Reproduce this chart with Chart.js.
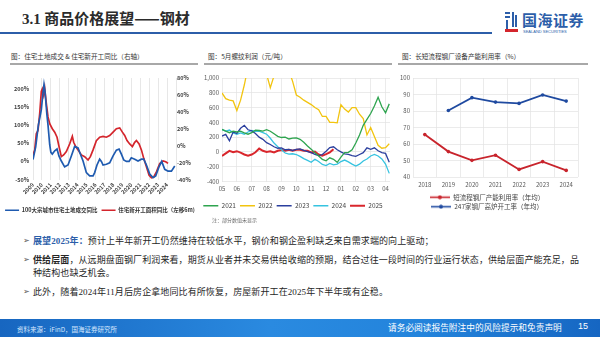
<!DOCTYPE html>
<html>
<head>
<meta charset="utf-8">
<script src="https://cdn.jsdelivr.net/npm/chart.js@4.4.0/dist/chart.umd.min.js"></script>
<style>
  body { margin: 0; width: 600px; height: 337px; position: relative; overflow: hidden; background: #fff;
         font-family: "Noto Sans CJK SC", "Noto Sans", sans-serif; color: #333; }
  .abs { position: absolute; white-space: nowrap; }
  .title { left: 22px; top: 7px; font-size: 15px; font-weight: bold; color: #2b2b2b; }
  .title .num { font-family: "Liberation Serif", serif; }
  .rule { left: 0; top: 32px; width: 492px; height: 2px; background: #2c5ea9; }
  .sub { top: 52px; font-size: 6.6px; line-height: 9px; color: #333; }
  .subline { top: 63px; height: 2px; background: #a8a8a8; }
  .note { left: 212px; top: 216px; font-size: 5px; color: #666; }
  .bul { font-size: 9px; line-height: 12px; color: #262626; letter-spacing: 0.1px;
         font-family: "Liberation Serif", "Noto Sans CJK SC", serif; }
  .arrow { font-size: 8px; line-height: 12px; color: #555; font-family: "DejaVu Sans", sans-serif; left: 23px; }
  .blue { color: #2c5ea9; font-weight: bold; }
  .footer { left: 0; top: 319px; width: 600px; height: 18px;
            background: linear-gradient(90deg, #1766c0 0%, #2a8ae0 45%, #2384dc 70%, #1666c2 100%); }
  canvas { position: absolute; }
</style>
</head>
<body>
<div class="abs title"><span class="num">3.1</span> 商品价格展望——钢材</div>
<div class="abs rule"></div>

<!-- logo -->
<div class="abs" style="left:505px;top:12px;width:13px;height:20px;">
  <div class="abs" style="left:0;top:0;width:5px;height:2px;background:#2c5ea9"></div>
  <div class="abs" style="left:0;top:4px;width:5px;height:2px;background:#2c5ea9"></div>
  <div class="abs" style="left:1px;top:8px;width:2px;height:9px;background:#2c5ea9"></div>
  <div class="abs" style="left:7px;top:0;width:2px;height:15px;background:#2c5ea9"></div>
  <div class="abs" style="left:10px;top:3px;width:2px;height:12px;background:#2c5ea9"></div>
  <div class="abs" style="left:0;top:17px;width:13px;height:3px;background:#d4252c"></div>
</div>
<div class="abs" style="left:522px;top:9px;font-size:15px;font-weight:bold;color:#2c5ea9;letter-spacing:0.5px;">国海证券</div>
<div class="abs" style="left:523px;top:29px;font-size:4px;color:#2c5ea9;font-family:'Liberation Sans',sans-serif;">SEALAND SECURITIES</div>

<!-- sub titles -->
<div class="abs sub" style="left:11px;">图：住宅土地成交 &amp; 住宅新开工同比（右轴）</div>
<div class="abs sub" style="left:208px;">图：5月螺纹利润（元/吨）</div>
<div class="abs sub" style="left:402px;">图：长短流程钢厂设备产能利用率（%）</div>
<div class="abs subline" style="left:10px;width:188px;"></div>
<div class="abs subline" style="left:204px;width:188px;"></div>
<div class="abs subline" style="left:398px;width:190px;"></div>

<canvas id="c1" width="200" height="157" style="left:0;top:66px;"></canvas>
<canvas id="c2" width="200" height="153" style="left:196px;top:66px;"></canvas>
<canvas id="c3" width="204" height="154" style="left:396px;top:66px;"></canvas>
<div class="abs note">注：部分数值未显示</div>

<!-- bullets -->
<div class="abs arrow" style="top:235px;">➢</div>
<div class="abs bul" style="left:33px;top:235px;"><span class="blue">展望2025年：</span>预计上半年新开工仍然维持在较低水平，钢价和钢企盈利缺乏来自需求端的向上驱动；</div>
<div class="abs arrow" style="top:254px;">➢</div>
<div class="abs bul" style="left:33px;top:254px;"><b>供给层面</b>，从远期盘面钢厂利润来看，期货从业者并未交易供给收缩的预期，结合过往一段时间的行业运行状态，供给层面产能充足，品</div>
<div class="abs bul" style="left:33px;top:267px;">种结构也缺乏机会。</div>
<div class="abs arrow" style="top:286px;">➢</div>
<div class="abs bul" style="left:33px;top:286px;">此外，随着2024年11月后房企拿地同比有所恢复，房屋新开工在2025年下半年或有企稳。</div>

<div class="abs footer"></div>
<div class="abs" style="left:17px;top:324px;font-size:6.5px;color:#d6e8ff;">资料来源：iFinD，国海证券研究所</div>
<div class="abs" style="left:388px;top:321px;font-size:8.7px;color:#fff;">请务必阅读报告附注中的风险提示和免责声明</div>
<div class="abs" style="left:578px;top:321px;font-size:9px;color:#fff;font-family:'Liberation Sans',sans-serif;">15</div>

<script>
// ---------- 图1：住宅土地成交 & 住宅新开工同比 ----------
const yearLabels = [2009, 2010, 2011, 2012, 2013, 2014, 2015, 2016, 2017, 2018, 2019, 2020, 2021, 2022, 2023, 2024];

const landYears = [2009.00, 2009.30, 2009.60, 2009.93, 2010.10, 2010.23, 2010.33, 2010.42, 2010.55, 2010.68, 2010.87, 2011.00,
  2011.16, 2011.43, 2011.69, 2011.90, 2012.17, 2012.54, 2012.92, 2013.29, 2013.66, 2014.04, 2014.22, 2014.60,
  2014.97, 2015.34, 2015.72, 2015.90, 2016.16, 2016.46, 2016.65, 2016.84, 2017.21, 2017.58, 2017.96, 2018.33,
  2018.63, 2018.89, 2019.15, 2019.45, 2019.75, 2020.00, 2020.38, 2020.75, 2021.13, 2021.39, 2021.69, 2022.06,
  2022.43, 2022.73, 2023.10, 2023.40, 2023.74, 2024.11, 2024.49, 2024.86];
const landYoy = [5, 40, 100, 142, 185, 212, 195, 170, 130, 100, 46, 25,
  20, 29, 34, 15, 1, -15, -10, 15, 41, 37, 25, 1,
  -31, -40, -40, -31, -10, 6, 0, -10, -8, -4, 15, 31,
  34, 20, 4, 0, 0, 10, 6, 1, 6, 6, -10, -35,
  -45, -40, -15, 0, -22, -27, -27, -13];

const startYears = [2009.00, 2009.19, 2009.37, 2009.56, 2009.75, 2009.93, 2010.04, 2010.19, 2010.31, 2010.49, 2010.68, 2010.87,
  2011.16, 2011.43, 2011.69, 2011.91, 2012.17, 2012.43, 2012.73, 2013.10, 2013.40, 2013.55, 2013.78, 2014.04,
  2014.41, 2014.78, 2015.16, 2015.42, 2015.72, 2016.09, 2016.46, 2016.84, 2017.21, 2017.58, 2017.96, 2018.33,
  2018.70, 2019.00, 2019.26, 2019.52, 2019.82, 2020.12, 2020.38, 2020.57, 2020.87, 2021.13, 2021.39, 2021.69,
  2021.99, 2022.25, 2022.51, 2022.81, 2023.18, 2023.55, 2023.85, 2024.11];
const startYoy = [-11, -5, 14, 18, 38, 64, 67, 60, 68, 50, 34, 26,
  20, 16, 10, -1, -13, -11, -7, 2, 11, 4, -1, -5,
  -11, -13, -17, -13, -5, 6, 10, 11, 10, 12, 16, 20,
  21, 16, 12, 6, 2, -1, 4, 6, 2, -5, -15, -25,
  -35, -38, -37, -31, -21, -18, -19, -21];

// ---------- 图2：5月螺纹利润（每点约一周，起点为5月初） ----------
const monthLabels = ['05', '06', '07', '08', '09', '10', '11', '12', '01', '02', '03', '04'];
const profitStep = 0.25;
const profit2021 = [304, 282, 260, 280, 270, 280, 258, 240, 260, 295, 290, 282, 300, 280, 245, 210, 195, 200, 175, 188,
  190, 170, 130, 80, 35, -10, -55, -100, -120, -80, -100, -140, -70, -10, -5, 30, 120, 230, 360, 440,
  520, 620, 740, 610, 530, 650];
const profit2022 = [798, 720, 700, 690, 560, 700, 905, 1150, 1250, 1200, 1300, 1150, 1050, 870, 1030, 1200, 1300, 1250, 1100, 955,
  770, 740, 700, 670, 640, 600, 570, 480, 480, 400, 400, 394, 640, 580, 540, 600, 600, 510, 450, 230,
  330, 210, 90, 50, 58, 110];
const profit2023 = [215, 237, 150, 270, 250, 320, 360, 300, 285, 250, 200, 170, 125, 100, 70, 50, 55, 30, 35, 20,
  35, 40, 20, 5, -10, -32, -50, -35, 10, 60, 70, 30, 0, -25, -32, -50, -60, -35, -10, 55,
  35, 55, 15, -10, -20, -140];
const profit2024 = [304, 282, 296, 258, 237, 258, 240, 270, 290, 280, 282, 262, 240, 185, 120, 70, 30, -15, -30, -25,
  -35, -60, -90, -115, -140, -99, -130, -170, -185, -155, -175, -165, -130, -110, -135, -165, -190, -165, -122, -95,
  -55, -35, -55, -95, -165, -290];
const profit2025 = [-55, -20, 15, -5, 10, -10, -35, -50, -35, -5, 45, 15, 0, 10, -8, 15, 25, 15, 30, 15,
  28, 30, 15, 15, -8, 5, -35, -52, -30, -5, 35];

// ---------- 图3：长短流程钢厂产能利用率 ----------
const utilYears = ['2018', '2019', '2020', '2021', '2022', '2023', '2024'];
const shortUtil = [65.7, 55.4, 50.1, 53.2, 44.6, 49.3, 44.0];
const blastUtil = [null, 80.3, 88.1, 85.4, 84.6, 89.7, 86.0];

Chart.defaults.font.family = '"Noto Sans CJK SC", "Noto Sans", sans-serif';
Chart.defaults.animation = false;
Chart.defaults.responsive = false;
Chart.defaults.plugins.tooltip.enabled = false;

const pairs = (xs, ys) => xs.map((x, i) => ({ x: x, y: ys[i] }));
const weekly = ys => ys.map((y, i) => ({ x: i * profitStep, y: y }));

// chart 1
new Chart(document.getElementById('c1'), {
  type: 'line',
  data: {
    datasets: [
      { label: '100大宗城市住宅土地成交同比', data: pairs(landYears, landYoy), yAxisID: 'y',
        borderColor: '#1f5bb0', borderWidth: 1.7, pointRadius: 0 },
      { label: '住宅新开工面积同比（左移6m)', data: pairs(startYears, startYoy), yAxisID: 'y1',
        borderColor: '#d4252c', borderWidth: 1.7, pointRadius: 0 }
    ]
  },
  options: {
    layout: { padding: { top: 12, left: 0, right: 0 } },
    plugins: {
      legend: {
        position: 'bottom',
        labels: { usePointStyle: true, pointStyle: 'line', pointStyleWidth: 14, boxHeight: 5.5,
                  font: { size: 5.5, weight: 'bold' }, color: '#333', padding: 4 }
      }
    },
    scales: {
      x: {
        type: 'linear', min: 2009, max: 2025,
        afterFit: s => { s.height = 24; },
        grid: { color: '#dcdcdc', lineWidth: 0.7, drawTicks: false },
        border: { display: false },
        ticks: { stepSize: 1, autoSkip: false, minRotation: 45, maxRotation: 45, padding: 2,
                 font: { size: 5.5, weight: 'bold' }, color: '#404040',
                 callback: v => yearLabels.includes(v) ? String(v) : '' }
      },
      y: {
        position: 'left', min: -50, max: 230,
        afterFit: s => { s.width = 33; },
        grid: { display: false, drawTicks: false }, border: { display: false },
        ticks: { stepSize: 50, includeBounds: false, padding: 4, font: { size: 5.5, weight: 'bold' }, color: '#404040',
                 callback: v => v + '%' }
      },
      y1: {
        position: 'right', min: -40, max: 80,
        afterFit: s => { s.width = 24; },
        grid: { display: false, drawTicks: false }, border: { display: false },
        ticks: { stepSize: 20, padding: 1, font: { size: 5.5, weight: 'bold' }, color: '#404040',
                 callback: v => v + '%' }
      }
    }
  }
});

// chart 2
const seasonColors = ['#2ea44f', '#f2c40f', '#2b3f9e', '#36c3e0', '#d9262c'];
new Chart(document.getElementById('c2'), {
  type: 'line',
  data: {
    datasets: [
      { label: '2021', data: weekly(profit2021), borderColor: seasonColors[0], borderWidth: 1.3, pointRadius: 0 },
      { label: '2022', data: weekly(profit2022), borderColor: seasonColors[1], borderWidth: 1.3, pointRadius: 0 },
      { label: '2023', data: weekly(profit2023), borderColor: seasonColors[2], borderWidth: 1.3, pointRadius: 0 },
      { label: '2024', data: weekly(profit2024), borderColor: seasonColors[3], borderWidth: 1.3, pointRadius: 0 },
      { label: '2025', data: weekly(profit2025), borderColor: seasonColors[4], borderWidth: 2, pointRadius: 0 }
    ]
  },
  options: {
    layout: { padding: { top: 12, right: 6 } },
    plugins: {
      legend: {
        position: 'bottom',
        labels: { usePointStyle: true, pointStyle: 'line', pointStyleWidth: 15, boxHeight: 6.5,
                  font: { size: 6.5 }, color: '#444', padding: 4 }
      }
    },
    scales: {
      x: {
        type: 'linear', min: 0, max: 11.3,
        afterFit: s => { s.height = 17; },
        grid: { color: '#e3e3e3', lineWidth: 0.7, drawTicks: false }, border: { display: false },
        ticks: { stepSize: 1, includeBounds: false, autoSkip: false, maxRotation: 0, padding: 4,
                 font: { size: 6 }, color: '#595959', callback: v => monthLabels[v] ?? '' }
      },
      y: {
        min: -400, max: 1000,
        afterFit: s => { s.width = 26; },
        grid: { color: '#e3e3e3', lineWidth: 0.7, drawTicks: false }, border: { display: false },
        ticks: { stepSize: 200, padding: 3, font: { size: 6 }, color: '#595959' }
      }
    }
  }
});

// chart 3
function lineDot(color) {
  const c = document.createElement('canvas');
  c.width = 20; c.height = 5;
  const g = c.getContext('2d');
  g.strokeStyle = color; g.lineWidth = 1.6;
  g.beginPath(); g.moveTo(0, 2.5); g.lineTo(20, 2.5); g.stroke();
  g.fillStyle = color;
  g.beginPath(); g.arc(10, 2.5, 2, 0, Math.PI * 2); g.fill();
  return c;
}
const utilColors = ['#c8242c', '#1f4aa0'];
new Chart(document.getElementById('c3'), {
  type: 'line',
  data: {
    labels: utilYears,
    datasets: [
      { label: '短流程钢厂产能利用率（年均）', data: shortUtil, borderColor: utilColors[0], backgroundColor: utilColors[0],
        borderWidth: 1.8, pointRadius: 1.8, pointBorderWidth: 0 },
      { label: '247家钢厂高炉开工率（年均）', data: blastUtil, borderColor: utilColors[1], backgroundColor: utilColors[1],
        borderWidth: 1.8, pointRadius: 1.8, pointBorderWidth: 0 }
    ]
  },
  options: {
    layout: { padding: { top: 12, right: 22 } },
    plugins: {
      legend: {
        position: 'bottom',
        labels: {
          usePointStyle: true, pointStyleWidth: 20, boxHeight: 6.5,
          font: { size: 6.5 }, color: '#444', padding: 3,
          generateLabels: chart => Chart.defaults.plugins.legend.labels.generateLabels(chart)
            .map((item, i) => Object.assign(item, { pointStyle: lineDot(utilColors[i]) }))
        }
      }
    },
    scales: {
      x: {
        offset: true,
        afterFit: s => { s.height = 14; },
        grid: { offset: true, color: '#e3e3e3', lineWidth: 0.7, drawTicks: false }, border: { display: false },
        ticks: { padding: 4, font: { size: 6 }, color: '#595959', maxRotation: 0 }
      },
      y: {
        min: 40, max: 100,
        afterFit: s => { s.width = 17; },
        grid: { color: '#e3e3e3', lineWidth: 0.7, drawTicks: false }, border: { display: false },
        ticks: { stepSize: 10, padding: 3, font: { size: 6 }, color: '#595959' }
      }
    }
  }
});
</script>
</body>
</html>
